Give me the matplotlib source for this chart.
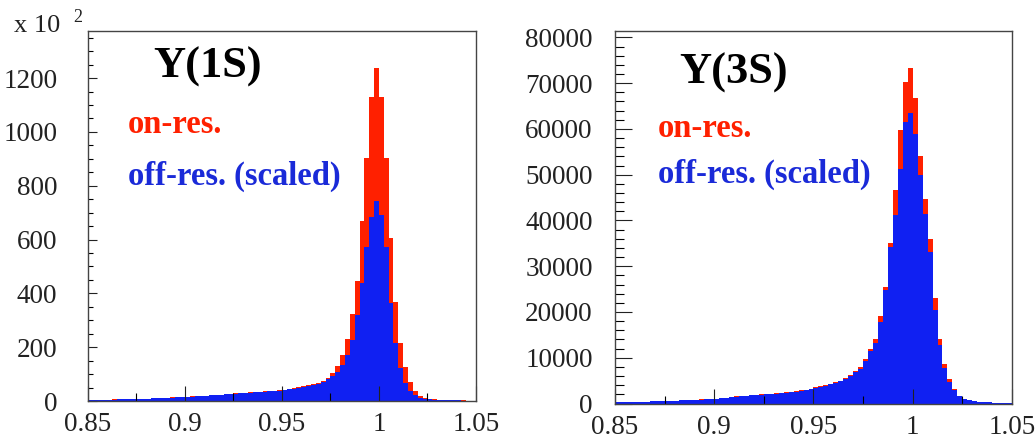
# Y(1S) / Y(3S) on-res vs scaled off-res histograms
import matplotlib.pyplot as plt
import numpy as np
from matplotlib.ticker import MultipleLocator, FuncFormatter

# binning: 80 bins on [0.85, 1.05]
x_lo, x_hi, n_bins = 0.85, 1.05, 80

# Y(1S), in units of 10^2
on_1s = [4, 4, 5, 5, 5, 6, 6, 7, 7, 8,
         8, 9, 9, 10, 11, 12, 13, 14, 15, 15,
         16, 17, 18, 19, 20, 22, 23, 24, 26, 27,
         28, 29, 30, 32, 33, 35, 36, 38, 39, 41,
         42, 45, 48, 51, 55, 58, 62, 66, 74, 87,
         105, 131, 171, 230, 322, 446, 670, 904, 1129, 1238,
         1129, 903, 604, 369, 215, 127, 72, 38, 20, 12,
         8, 6, 5, 4, 3, 3, 2, 2, 1, 1]
off_1s = [4, 4, 4, 5, 5, 5, 6, 6, 7, 7,
          8, 8, 9, 10, 10, 11, 12, 13, 14, 15,
          15, 16, 17, 18, 19, 21, 22, 23, 25, 26,
          27, 28, 29, 30, 32, 33, 35, 36, 38, 39,
          40, 43, 46, 49, 52, 55, 59, 63, 70, 80,
          92, 108, 135, 171, 227, 320, 437, 573, 685, 743,
          691, 573, 364, 215, 123, 67, 38, 22, 13, 9,
          6, 5, 4, 3, 3, 2, 2, 1, 1, 1]

# Y(3S), counts
on_3s = [300, 320, 340, 360, 380, 400, 430, 460, 490, 520,
         560, 600, 640, 690, 740, 790, 840, 890, 930, 960,
         1000, 1150, 1300, 1450, 1550, 1650, 1750, 1850, 1950, 2000,
         2060, 2150, 2250, 2350, 2450, 2550, 2700, 2850, 3000, 3250,
         3500, 3750, 4000, 4300, 4600, 5000, 5500, 6200, 7000, 7880,
         9720, 11910, 14100, 19200, 25560, 35040, 46580, 59720, 70300, 73240,
         66660, 54000, 44760, 36000, 23000, 14100, 8700, 5300, 3150, 1700,
         1000, 700, 500, 380, 300, 240, 200, 160, 130, 100]
off_3s = [290, 310, 330, 350, 370, 390, 420, 445, 475, 505,
          545, 580, 620, 670, 720, 765, 815, 865, 900, 930,
          970, 1115, 1260, 1400, 1500, 1600, 1700, 1790, 1890, 1940,
          2000, 2080, 2180, 2280, 2380, 2470, 2620, 2760, 2910, 3150,
          3400, 3640, 3880, 4170, 4460, 4850, 5330, 6000, 6800, 7600,
          9300, 11400, 13300, 17800, 24700, 34100, 41100, 51330, 61540, 63380,
          59000, 50000, 41500, 33000, 20500, 12800, 7800, 4800, 2850, 1550,
          950, 660, 470, 360, 280, 225, 185, 150, 120, 95]

RED = '#ff2000'
BLUE = '#1020f2'
SERIF = ['Liberation Serif', 'DejaVu Serif']
plt.rcParams['font.family'] = SERIF

edges = np.linspace(x_lo, x_hi, n_bins + 1)
fig = plt.figure(figsize=(10.36, 4.41), dpi=100)

panels = [
    # data, axes rect, ylim, y major, y minor, title, text pos, xpad, ypad, ymaj len
    (on_1s, off_1s, [0.0849, 0.0907, 0.3745, 0.839], 1375, 200, 50, 'Y(1S)',
     (0.168, 0.873, 0.103, 0.724, 0.584), 8, 22, 6.5),
    (on_3s, off_3s, [0.5936, 0.085, 0.3832, 0.8447], 81400, 10000, 2000, 'Y(3S)',
     (0.161, 0.86, 0.1075, 0.716, 0.593), 8, 16, 12),
]

for on, off, rect, ymax, ymaj, ymin, title, tpos, xpad, ypad, ylen in panels:
    ax = fig.add_axes(rect)
    ax.stairs(on, edges, fill=True, color=RED, lw=0)
    ax.stairs(off, edges, fill=True, color=BLUE, lw=0)
    ax.set_xlim(x_lo, x_hi)
    ax.set_ylim(0, ymax)

    ax.xaxis.set_major_locator(MultipleLocator(0.05))
    ax.xaxis.set_minor_locator(MultipleLocator(0.025))
    ax.yaxis.set_major_locator(MultipleLocator(ymaj))
    ax.yaxis.set_minor_locator(MultipleLocator(ymin))
    ax.xaxis.set_major_formatter(FuncFormatter(lambda v, p: '%g' % round(v, 3)))
    ax.yaxis.set_major_formatter(FuncFormatter(lambda v, p: '%d' % v))
    ax.tick_params(axis='x', which='major', direction='in', length=11, width=0.8,
                   pad=xpad, labelsize=19.5, colors='#222222')
    ax.tick_params(axis='x', which='minor', direction='in', length=6, width=0.8)
    ax.tick_params(axis='y', which='major', direction='in', length=ylen, width=0.8,
                   pad=ypad, labelsize=19.5, colors='#222222')
    ax.tick_params(axis='y', which='minor', direction='in', length=ylen * 0.55, width=0.8)
    for s in ax.spines.values():
        s.set_color('#444444')
        s.set_linewidth(1.0)

    ax.text(tpos[0], tpos[1], title, transform=ax.transAxes, fontsize=32,
            fontweight='bold', color='black', va='baseline')
    ax.text(tpos[2], tpos[3], 'on-res.', transform=ax.transAxes, fontsize=23.5,
            fontweight='bold', color=RED, va='baseline')
    ax.text(tpos[2], tpos[4], 'off-res. (scaled)', transform=ax.transAxes,
            fontsize=23.5, fontweight='bold', color='#1a2ad8', va='baseline')

# axis multiplier of the left panel
fig.text(14 / 1036, 1 - 32 / 441, 'x 10', fontsize=19, color='#222222', va='baseline')
fig.text(73 / 1036, 1 - 22 / 441, '2', fontsize=13, color='#222222', va='baseline')

plt.savefig('out.png', dpi=100)
